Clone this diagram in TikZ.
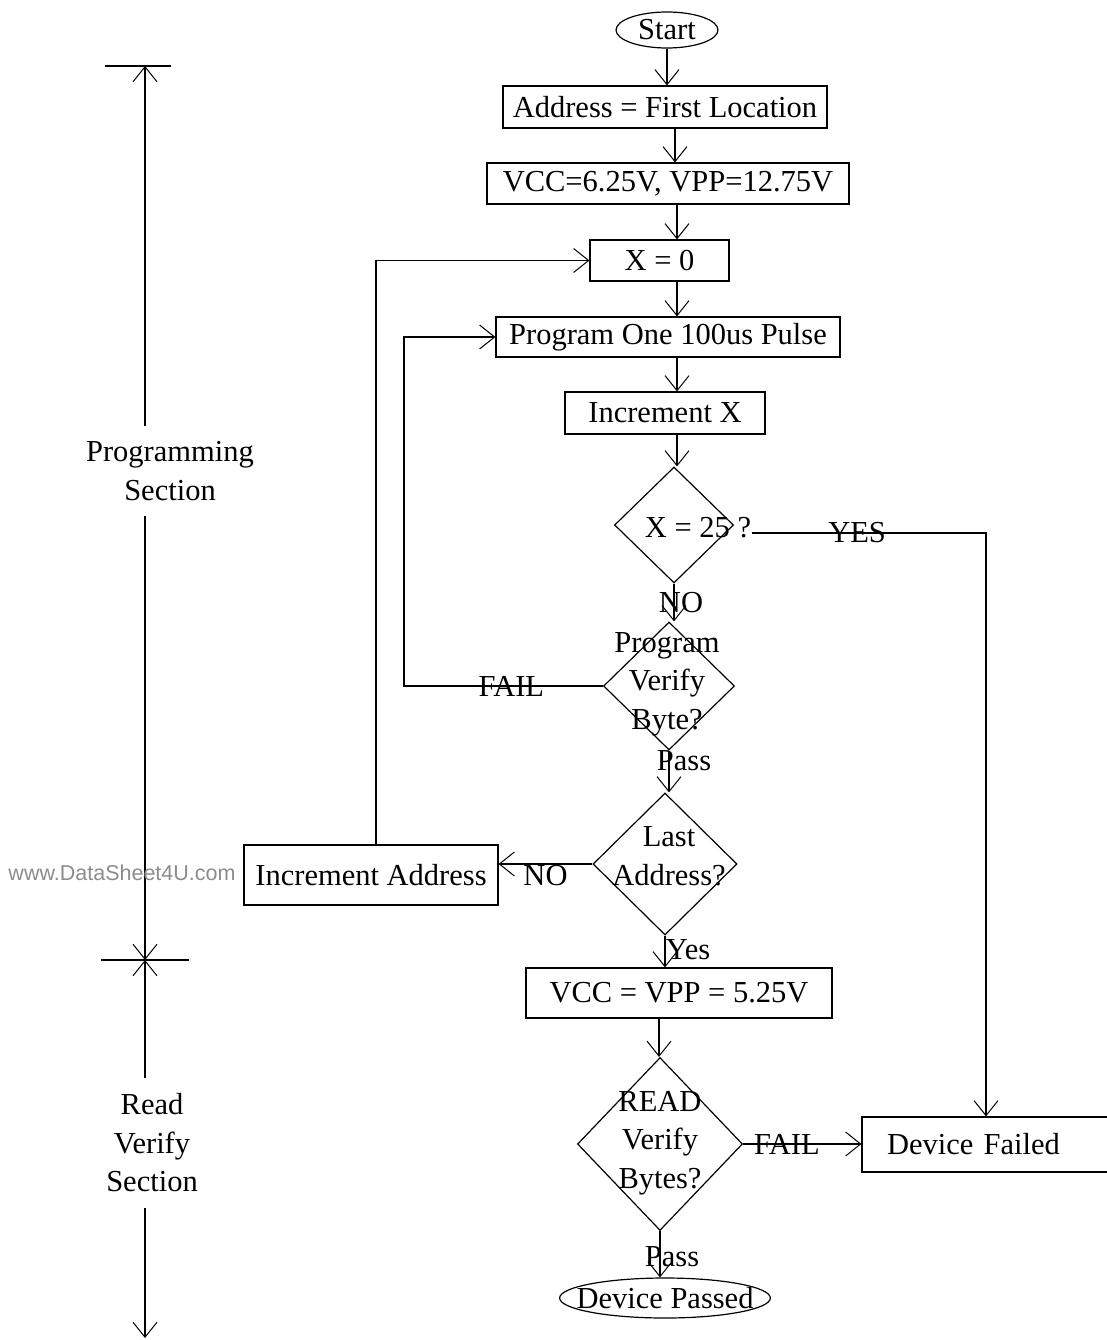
\documentclass[tikz,border=0pt]{standalone}
\usepackage{fontspec}
\setmainfont{Liberation Serif}
\newfontfamily\wmfont{Liberation Sans}
\usepackage{tikz}
\usetikzlibrary{shapes.geometric,arrows.meta}
\newcommand{\WM}[0]{black!45}

\begin{document}
\begin{tikzpicture}[x=1pt, y=-1pt, line width=1.2pt,
  >={Straight Barb[length=15pt,width=24pt,line width=1pt]},
  every node/.style={font=\fontsize{30.5}{38.5}\selectfont},
  stepbox/.style={draw, rectangle, inner sep=0pt},
  decision/.style={draw, diamond, inner sep=0pt},
  terminal/.style={draw, ellipse, inner sep=0pt},
  txt/.style={align=center, inner sep=0pt},
  lbl/.style={inner sep=0pt},
  section/.style={align=center, inner xsep=0pt, inner ysep=15pt}]

  \useasboundingbox (0,0) rectangle (1106,1340);

  %% main column
  \node[terminal, minimum width=102pt, minimum height=36pt] (start) at (667,30) {Start};
  \node[stepbox, minimum width=324pt, minimum height=42pt] (addr) at (665,107) {Address = First Location};
  \node[stepbox, minimum width=362pt, minimum height=41pt] (vcc) at (668,183.5) {VCC=6.25V, VPP=12.75V};
  \node[stepbox, minimum width=139pt, minimum height=41pt] (xzero) at (659.5,260.5) {X = 0};
  \node[stepbox, minimum width=344pt, minimum height=40pt] (prog) at (668,337) {Program One 100us Pulse};
  \node[stepbox, minimum width=200pt, minimum height=42pt] (incx) at (665,413) {Increment X};

  \node[decision, minimum width=119pt, minimum height=116pt] (xmax) at (674,525) {};
  \node[txt] (xmaxtxt) at (698,528) {X = 25 ?};

  \node[decision, minimum width=131pt, minimum height=128pt] (verify) at (669,686) {};
  \node[txt] (verifytxt) at (667,684) {Program\\Verify\\Byte?};

  \node[decision, minimum width=144pt, minimum height=142pt] (lastaddr) at (665,864) {};
  \node[txt] (lastaddrtxt) at (669,856) {Last\\Address?};

  \node[stepbox, minimum width=254pt, minimum height=60pt] (incaddr) at (371,875) {Increment Address};
  \node[stepbox, minimum width=306pt, minimum height=50pt] (vccread) at (679,993) {VCC = VPP = 5.25V};

  \node[decision, minimum width=165pt, minimum height=173pt] (readver) at (660,1144) {};
  \node[txt] (readvertxt) at (660,1143) {READ\\Verify\\Bytes?};

  \node[stepbox, minimum height=55pt, text width=198pt, inner xsep=25pt, align=left] (failed) at (986,1144.5) {Device Failed};
  \node[terminal, minimum height=40pt, inner xsep=-14pt] (passed) at (665,1298) {Device Passed};

  %% straight steps
  \draw[->] (start.south) -- (start.south |- addr.north);
  \draw[->] ([xshift=10pt]addr.south) -- ([xshift=10pt]addr.south |- vcc.north);
  \draw[->] ([xshift=9pt]vcc.south) -- ([xshift=9pt]vcc.south |- xzero.north);
  \draw[->] ([xshift=17.5pt]xzero.south) -- ([xshift=17.5pt]xzero.south |- prog.north);
  \draw[->] ([xshift=9pt]prog.south) -- ([xshift=9pt]prog.south |- incx.north);
  \draw[->] ([xshift=12pt]incx.south) -- ([xshift=12pt]incx.south |- xmax.north);

  %% X = 25 ?
  \draw[->] ([yshift=-5pt]xmaxtxt.east) -- node[lbl, pos=.45]{YES}
  ([yshift=-5pt]xmaxtxt.east -| failed.north) -- (failed.north);
  \draw[->] (xmax.south) -- node[lbl, xshift=7pt]{NO} (xmax.south |- verify.north);

  %% program verify
  \draw[->] (verify.west) -- node[lbl, pos=.46]{FAIL} ++(-199,0) |- (prog.west);
  \draw[->] (verify.south) -- node[lbl, pos=.25, xshift=15pt]{Pass} (verify.south |- lastaddr.north);

  %% last address
  \draw[->] (lastaddr.west) -- node[lbl, below, yshift=-1pt]{NO} (lastaddr.west -| incaddr.east);
  \draw[->] ([xshift=5pt]incaddr.north) |- (xzero.west);
  \draw[->] (lastaddr.south) -- node[lbl, pos=.45, xshift=23pt]{Yes} (lastaddr.south |- vccread.north);
  \draw[->] ([xshift=-20pt]vccread.south) -- ([xshift=-20pt]vccread.south |- readver.north);

  %% read verify
  \draw[->] (readver.east) -- node[lbl, pos=.37]{FAIL} (readver.east -| failed.west);
  \draw[->] (readver.south) -- node[lbl, pos=.55, xshift=12pt]{Pass} (readver.south |- passed.north);

  %% sections
  \coordinate (progtop) at (145,66);
  \coordinate (split) at (145,960);
  \coordinate (readend) at (145,1338);
  \node[section] (progsec) at (170,471) {Programming\\Section};
  \node[section] (readsec) at (152,1143) {Read\\Verify\\Section};
  \draw[->] (progsec.north -| progtop) -- (progtop);
  \draw[->] (progsec.south -| progtop) -- (split);
  \draw[->] (readsec.north -| split) -- (split);
  \draw[->] (readsec.south -| split) -- (readend);
  \draw (progtop) ++(-40,0) -- ++(66,0);
  \draw (split) ++(-44,0) -- ++(88,0);

  \node[font=\wmfont\fontsize{21.5}{24}\selectfont, text=\WM, inner sep=0pt] (wm) at (122,873) {www.DataSheet4U.com};

\end{tikzpicture}
\end{document}
